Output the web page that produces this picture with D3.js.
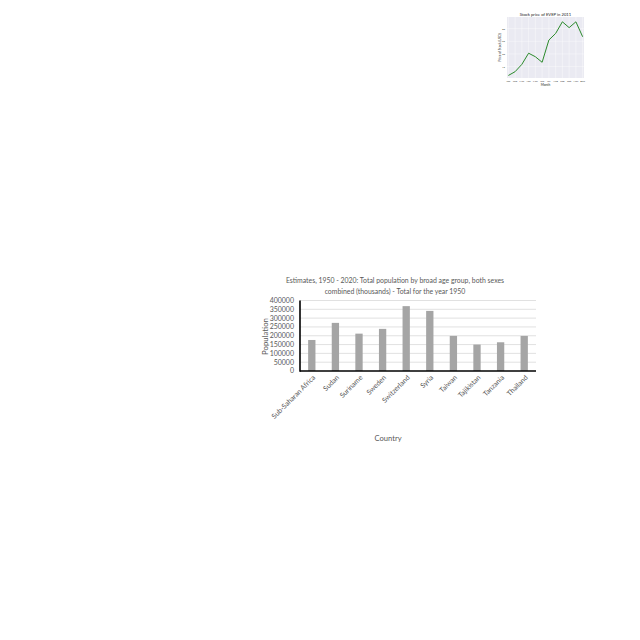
<!DOCTYPE html>
<html>
<head>
<meta charset="utf-8">
<script src="https://cdn.jsdelivr.net/npm/d3@7"></script>
<style>
  body { margin: 0; background: #fff; }
  svg { display: block; }
  text { font-family: Lato, "Open Sans", sans-serif; }
</style>
</head>
<body>
<svg id="chart" width="640" height="640"></svg>
<script>
// ---- Bar chart data ----
const countries = ["Sub-Saharan Africa", "Sudan", "Suriname", "Sweden", "Switzerland", "Syria", "Taiwan", "Tajikistan", "Tanzania", "Thailand"];
const population = [176000, 273000, 212000, 239000, 368000, 341000, 199000, 150000, 163000, 199000];
const popTicks = [0, 50000, 100000, 150000, 200000, 250000, 300000, 350000, 400000];
const barTitle = ["Estimates, 1950 - 2020: Total population by broad age group, both sexes", "combined (thousands) - Total for the year 1950"];

// ---- Line chart data ----
const months = ["Jan", "Feb", "Mar", "Apr", "May", "Jun", "Jul", "Aug", "Sep", "Oct", "Nov", "Dec"];
const stockPrice = [11.5, 13.0, 15.9, 20.3, 18.9, 16.7, 25.5, 28.1, 32.7, 30.4, 32.7, 26.8];
const priceTicks = [15, 20, 25, 30];

const svg = d3.select("#chart");
const textCol = "#595959";

// ================= Bar chart =================
const bx = d3.scaleBand().domain(countries).range([300, 536]).paddingInner(0.69).paddingOuter(0.345);
const by = d3.scaleLinear().domain([0, 400000]).range([371, 300.5]);

const bar = svg.append("g");

bar.selectAll("line.grid").data(popTicks.slice(1)).join("line")
  .attr("class", "grid")
  .attr("x1", 300).attr("x2", 536)
  .attr("y1", d => by(d)).attr("y2", d => by(d))
  .attr("stroke", "#d9d9d9").attr("stroke-width", 0.8);

bar.selectAll("rect").data(countries).join("rect")
  .attr("x", d => bx(d))
  .attr("width", bx.bandwidth())
  .attr("y", (d, i) => by(population[i]))
  .attr("height", (d, i) => by(0) - by(population[i]))
  .attr("fill", "#a5a5a5");

// axes lines
bar.append("line").attr("x1", 300).attr("x2", 300).attr("y1", by(400000)).attr("y2", by(0) + 0.8)
  .attr("stroke", "#000").attr("stroke-width", 1.6);
bar.append("line").attr("x1", 300).attr("x2", 536).attr("y1", by(0)).attr("y2", by(0))
  .attr("stroke", "#000").attr("stroke-width", 1.6);

// y tick labels
bar.selectAll("text.ytick").data(popTicks).join("text")
  .attr("class", "ytick")
  .attr("x", 294).attr("y", d => by(d))
  .attr("dy", "0.35em")
  .attr("text-anchor", "end")
  .attr("font-size", 7.0).attr("fill", textCol)
  .text(d => d);

// x tick labels
bar.selectAll("text.xtick").data(countries).join("text")
  .attr("class", "xtick")
  .attr("text-anchor", "end")
  .attr("font-size", 7.0).attr("fill", textCol)
  .attr("transform", d => `translate(${bx(d) + bx.bandwidth() / 2 + 4},${378}) rotate(-45)`)
  .text(d => d);

// title
bar.selectAll("text.title").data(barTitle).join("text")
  .attr("class", "title")
  .attr("x", 395).attr("y", (d, i) => 283 + i * 10.7)
  .attr("text-anchor", "middle")
  .attr("font-size", 6.9).attr("fill", textCol)
  .text(d => d);

// axis titles
bar.append("text")
  .attr("transform", "translate(267.5,336.5) rotate(-90)")
  .attr("text-anchor", "middle")
  .attr("font-size", 7.8).attr("fill", textCol)
  .text("Population");
bar.append("text")
  .attr("x", 388).attr("y", 440.5)
  .attr("text-anchor", "middle")
  .attr("font-size", 7.6).attr("fill", textCol)
  .text("Country");

// ================= Line chart =================
const lx = d3.scalePoint().domain(months).range([507, 584]).padding(0.2);
const ly = d3.scaleLinear().domain([10.5, 34.6]).range([78, 17]);

const lc = svg.append("g");
lc.append("rect").attr("x", 507).attr("y", 17).attr("width", 77).attr("height", 61).attr("fill", "#eaeaf2");

lc.selectAll("line.hgrid").data(priceTicks).join("line")
  .attr("class", "hgrid")
  .attr("x1", 507).attr("x2", 584)
  .attr("y1", d => ly(d)).attr("y2", d => ly(d))
  .attr("stroke", "#fff").attr("stroke-width", 0.4);
lc.selectAll("line.vgrid").data(months).join("line")
  .attr("class", "vgrid")
  .attr("x1", d => lx(d)).attr("x2", d => lx(d))
  .attr("y1", 17).attr("y2", 78)
  .attr("stroke", "#fff").attr("stroke-width", 0.4);

lc.append("path")
  .datum(stockPrice)
  .attr("fill", "none")
  .attr("stroke", "#2b8a2b")
  .attr("stroke-width", 1)
  .attr("d", d3.line().x((d, i) => lx(months[i])).y(d => ly(d)));

lc.selectAll("text.ly").data(priceTicks).join("text")
  .attr("class", "ly")
  .attr("x", 505).attr("y", d => ly(d)).attr("dy", "0.35em")
  .attr("text-anchor", "end")
  .attr("font-size", 2.6).attr("fill", "#333")
  .text(d => d);
lc.selectAll("text.lx").data(months).join("text")
  .attr("class", "lx")
  .attr("x", d => lx(d)).attr("y", 81.5)
  .attr("text-anchor", "middle")
  .attr("font-size", 2.6).attr("fill", "#333")
  .text(d => d);

lc.append("text")
  .attr("x", 545.5).attr("y", 16)
  .attr("text-anchor", "middle")
  .attr("font-size", 4.2).attr("fill", "#222")
  .attr("font-family", "DejaVu Sans")
  .text("Stock price of EVEP in 2011");
lc.append("text")
  .attr("x", 545.5).attr("y", 85.5)
  .attr("text-anchor", "middle")
  .attr("font-size", 3.2).attr("fill", "#222")
  .attr("font-family", "DejaVu Sans")
  .text("Month");
lc.append("text")
  .attr("transform", "translate(500.5,47.5) rotate(-90)")
  .attr("text-anchor", "middle")
  .attr("font-size", 3.2).attr("fill", "#222")
  .attr("font-family", "DejaVu Sans")
  .text("Price of Stock (USD)");
</script>
</body>
</html>
